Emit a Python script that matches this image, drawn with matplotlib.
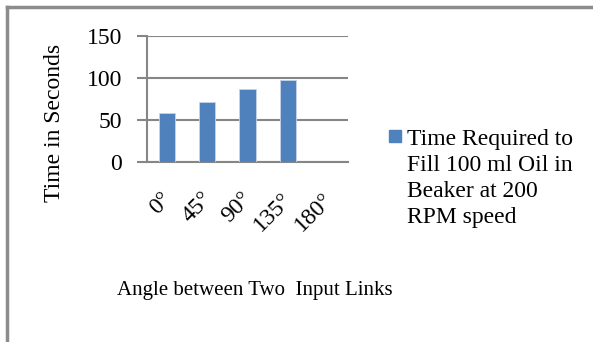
import matplotlib
matplotlib.use("Agg")
import matplotlib.pyplot as plt
import matplotlib.transforms as mtransforms
from matplotlib.lines import Line2D
from matplotlib.patches import Rectangle

plt.rcParams["font.family"] = ["Liberation Serif", "DejaVu Serif"]

# data
angles = ["0°", "45°", "90°", "135°", "180°"]
times = [58, 72, 86.5, 98, 0]
series_name = "Time Required to\nFill 100 ml Oil in\nBeaker at 200\nRPM speed"

bar_color = "#4F81BD"
grid_color = "#868686"
W, H = 593, 342

fig = plt.figure(figsize=(W / 100, H / 100), dpi=100)

# outer chart frame (only top and left edges visible in the crop)
fig.add_artist(Line2D([7 / W, 1.0], [1 - 7 / H, 1 - 7 / H],
                      transform=fig.transFigure, color="#8c8c8c", lw=2.5))
fig.add_artist(Line2D([7 / W, 7 / W], [0.0, 1 - 7 / H],
                      transform=fig.transFigure, color="#8c8c8c", lw=2.5))

ax = fig.add_axes([147 / W, 1 - 162 / H, 201 / W, 126 / H])

x = range(len(angles))
ax.bar(x, times, width=0.4, color=bar_color, edgecolor="#c6d5ea", linewidth=0.6,
       zorder=3)

ax.set_xlim(-0.5, len(angles) - 0.5)
ax.set_ylim(0, 150)
ax.set_yticks([0, 50, 100, 150])
ax.yaxis.grid(True, color=grid_color, linewidth=1.5, zorder=0)
ax.set_axisbelow(True)

for side in ("top", "right"):
    ax.spines[side].set_visible(False)
for side in ("left", "bottom"):
    ax.spines[side].set_color(grid_color)
    ax.spines[side].set_linewidth(1.5)

ax.tick_params(axis="y", length=7, width=1.5, color=grid_color, labelsize=17, pad=11)
ax.tick_params(axis="x", length=0, labelsize=17, pad=17)
ax.set_xticks(list(x))
ax.set_xticklabels(angles, rotation=45, ha="right", va="top", rotation_mode="anchor")
shift = mtransforms.ScaledTranslation(-6 / 100, -3 / 100, fig.dpi_scale_trans)
for lbl in ax.get_xticklabels():
    lbl.set_transform(lbl.get_transform() + shift)

ax.set_ylabel("Time in Seconds", fontsize=17, va="center")
ax.yaxis.set_label_coords((55 - 147) / 201, (162 - 123) / 126)
fig.text(255 / W, 1 - 290 / H, "Angle between Two  Input Links",
         ha="center", va="center", fontsize=15)

# legend: one blue square and the wrapped series name
fig.add_artist(Rectangle((389 / W, 1 - 142 / H), 12 / W, 12 / H,
                         transform=fig.transFigure, color=bar_color))
fig.text(407 / W, 1 - 129 / H, series_name, ha="left", va="top",
         fontsize=17, linespacing=1.32)

fig.savefig("out.png", dpi=100)
